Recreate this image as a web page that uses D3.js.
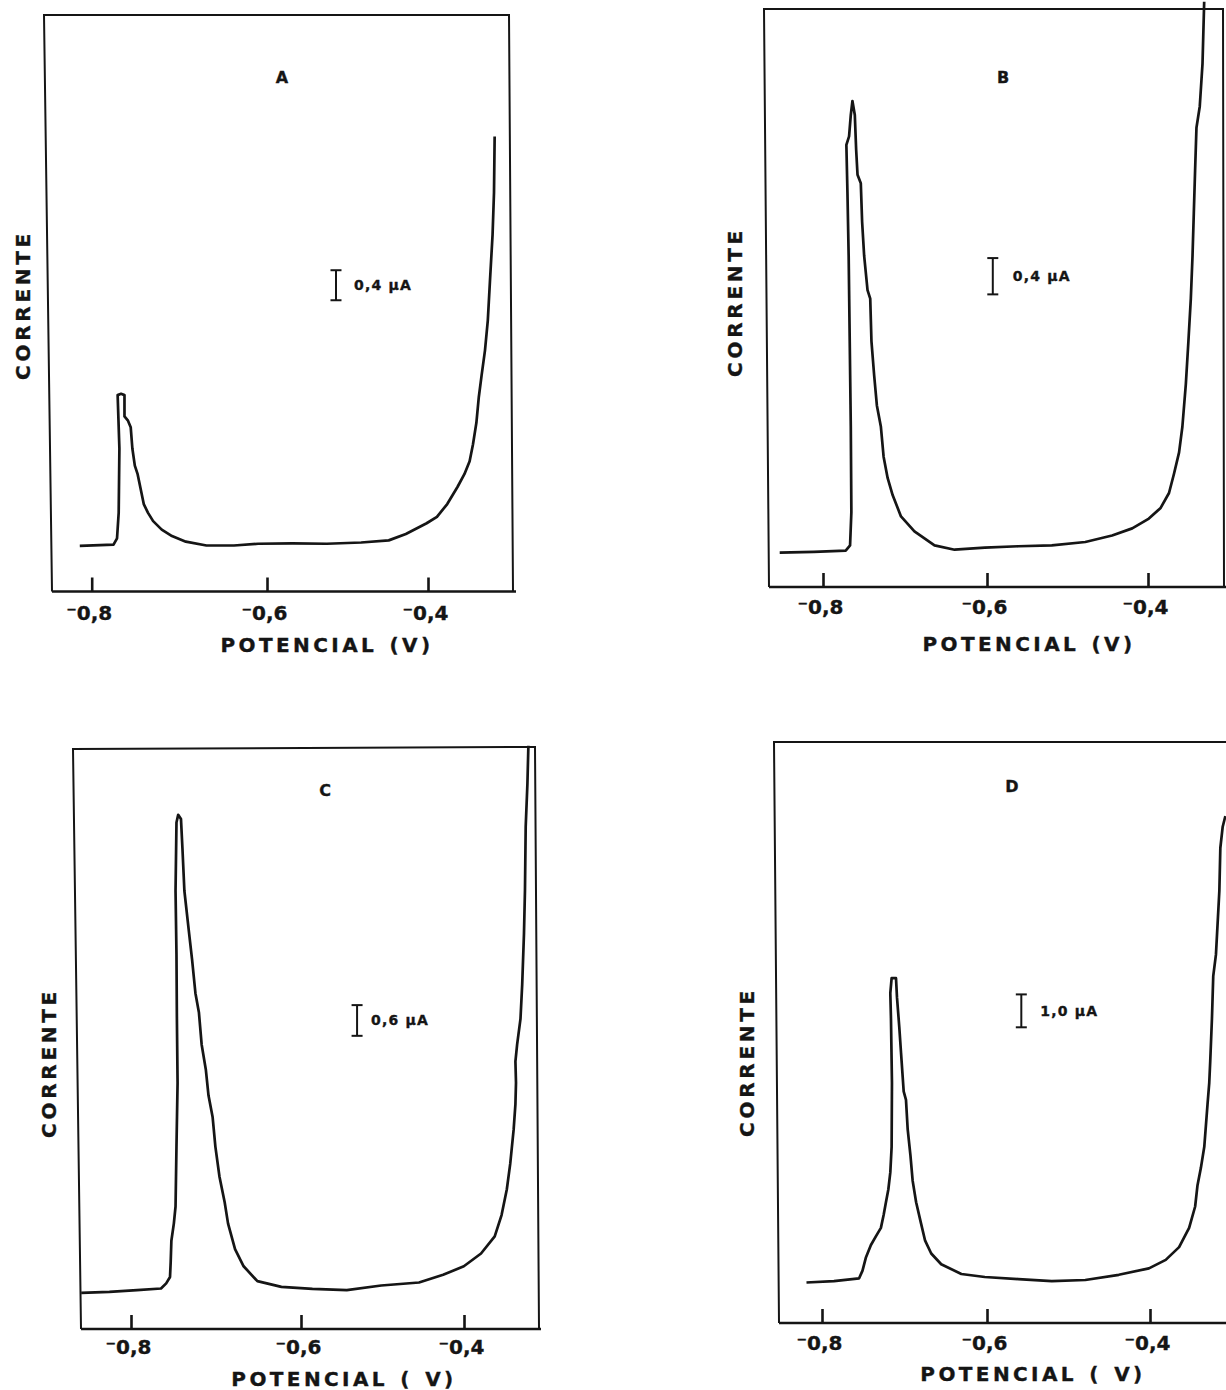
<!DOCTYPE html>
<html lang="pt">
<head>
<meta charset="utf-8">
<title>Corrente x potencial - A, B, C, D</title>
<script src="https://cdn.jsdelivr.net/npm/d3@7/dist/d3.min.js"></script>
<style>
  body { margin: 0; background: #fff; }
  svg text { font-family: "DejaVu Sans", Verdana, sans-serif; font-weight: bold; fill: #151515; stroke: #151515; stroke-width: 0.35; }
</style>
</head>
<body>
<div id="fig"></div>
<script>

// ---- data (potential in V, current in uA) ----
var panelLetters = ["A", "B", "C", "D"];
var tickValues = [-0.8, -0.6, -0.4];
var tickLabels = ["\u207b0,8", "\u207b0,6", "\u207b0,4"];
var yTitle = "CORRENTE";
var xTitles = ["POTENCIAL (V)", "POTENCIAL (V)", "POTENCIAL ( V)", "POTENCIAL ( V)"];

// current at the top of each frame (full scale), uA
var fullScale = [7.68, 6.37, 11.33, 17.66];

// scale bars
var barLabels = ["0,4 \u00b5A", "0,4 \u00b5A", "0,6 \u00b5A", "1,0 \u00b5A"];
var barLength = [0.4, 0.4, 0.6, 1.0];
var barPotential = [-0.5143, -0.5928, -0.5312, -0.5579];
var barCurrent = [3.88, 3.225, 5.727, 8.988];

var potentialA = [-0.8136, -0.7751, -0.7711, -0.7692, -0.7684, -0.7704, -0.7665, -0.7626, -0.7626, -0.7586,
  -0.7555, -0.7536, -0.7508, -0.7476, -0.7446, -0.7406, -0.7359, -0.7299, -0.7201, -0.7084, -0.6926, -0.6691,
  -0.6377, -0.6102, -0.5684, -0.5257, -0.4830, -0.4488, -0.4275, -0.4017, -0.3889, -0.3761, -0.3634, -0.3548,
  -0.3483, -0.3441, -0.3399, -0.3369, -0.3335, -0.3292, -0.3257, -0.3228, -0.3198, -0.3180, -0.3172];
var currentA = [0.608, 0.624, 0.709, 1.051, 1.905, 2.616, 2.633, 2.616, 2.332, 2.275,
  2.189, 1.905, 1.677, 1.563, 1.392, 1.165, 1.051, 0.937, 0.824, 0.739, 0.664, 0.613,
  0.613, 0.636, 0.641, 0.636, 0.653, 0.681, 0.767, 0.909, 0.995, 1.165, 1.392, 1.563,
  1.735, 1.961, 2.247, 2.588, 2.872, 3.213, 3.612, 4.181, 4.751, 5.319, 6.06];

var potentialB = [-0.8528, -0.8111, -0.7723, -0.7670, -0.7654, -0.7661, -0.7674, -0.7687, -0.7702, -0.7715,
  -0.7682, -0.7661, -0.7641, -0.7612, -0.7596, -0.7579, -0.7539, -0.7523, -0.7498, -0.7457, -0.7424, -0.7409,
  -0.7376, -0.7343, -0.7294, -0.7261, -0.7212, -0.7151, -0.7049, -0.6885, -0.6640, -0.6395, -0.6027, -0.5611,
  -0.5195, -0.4779, -0.4446, -0.4196, -0.3989, -0.3843, -0.3739, -0.3677, -0.3614, -0.3573, -0.3530, -0.3498,
  -0.3468, -0.3447, -0.3431, -0.3415, -0.3398, -0.3357, -0.3323, -0.3302];
var currentB = [0.378, 0.387, 0.401, 0.458, 0.825, 1.766, 2.708, 3.648, 4.354, 4.872,
  4.966, 5.202, 5.356, 5.202, 4.825, 4.543, 4.449, 4.025, 3.648, 3.272, 3.178, 2.708,
  2.331, 2.001, 1.766, 1.436, 1.202, 1.013, 0.778, 0.613, 0.458, 0.411, 0.434, 0.449,
  0.458, 0.496, 0.567, 0.646, 0.754, 0.872, 1.036, 1.248, 1.484, 1.766, 2.237, 2.708,
  3.178, 3.648, 4.119, 4.590, 5.061, 5.296, 5.766, 6.45];

var potentialC = [-0.8586, -0.8254, -0.7929, -0.7647, -0.7586, -0.7541, -0.7533, -0.7525, -0.7496, -0.7476,
  -0.7465, -0.7452, -0.7460, -0.7465, -0.7476, -0.7465, -0.7445, -0.7412, -0.7395, -0.7372, -0.7322, -0.7282,
  -0.7242, -0.7201, -0.7169, -0.7119, -0.7088, -0.7040, -0.7007, -0.6959, -0.6898, -0.6858, -0.6776, -0.6675,
  -0.6513, -0.6231, -0.5860, -0.5438, -0.5016, -0.4552, -0.4256, -0.4002, -0.3791, -0.3623, -0.3539, -0.3475,
  -0.3433, -0.3391, -0.3369, -0.3362, -0.3369, -0.3348, -0.3307, -0.3286, -0.3264, -0.3252, -0.3243, -0.3222,
  -0.3210];
var currentC = [0.707, 0.725, 0.758, 0.791, 0.891, 1.016, 1.309, 1.725, 2.059, 2.393,
  3.559, 4.809, 6.059, 7.311, 8.561, 9.895, 10.045, 9.961, 9.395, 8.561, 7.811, 7.227,
  6.559, 6.184, 5.559, 5.059, 4.559, 4.143, 3.559, 2.975, 2.475, 2.059, 1.559, 1.225,
  0.934, 0.824, 0.783, 0.758, 0.850, 0.908, 1.059, 1.225, 1.475, 1.809, 2.225, 2.725,
  3.225, 3.893, 4.393, 4.809, 5.227, 5.559, 6.059, 6.727, 7.727, 8.561, 9.811, 10.645,
  11.395];

var potentialD = [-0.8188, -0.7855, -0.7550, -0.7509, -0.7469, -0.7407, -0.7347, -0.7286, -0.7253, -0.7225,
  -0.7196, -0.7172, -0.7156, -0.7152, -0.7164, -0.7172, -0.7156, -0.7103, -0.7091, -0.7063, -0.7042, -0.7010,
  -0.6982, -0.6961, -0.6928, -0.6901, -0.6859, -0.6799, -0.6750, -0.6676, -0.6555, -0.6311, -0.6027, -0.5616,
  -0.5205, -0.4794, -0.4383, -0.4013, -0.3807, -0.3643, -0.3520, -0.3446, -0.3417, -0.3376, -0.3334, -0.3294,
  -0.3273, -0.3261, -0.3240, -0.3224, -0.3191, -0.3163, -0.3149, -0.3137, -0.3108, -0.3075];
var currentD = [1.231, 1.271, 1.359, 1.593, 1.982, 2.371, 2.632, 2.891, 3.280, 3.669,
  4.058, 4.578, 5.356, 7.301, 9.246, 10.024, 10.480, 10.480, 9.897, 8.988, 8.210, 7.043,
  6.781, 5.875, 5.097, 4.319, 3.669, 3.021, 2.502, 2.112, 1.787, 1.489, 1.398, 1.334,
  1.271, 1.307, 1.465, 1.660, 1.918, 2.307, 2.891, 3.541, 4.188, 4.708, 5.356, 6.653,
  7.301, 7.951, 9.246, 10.544, 11.195, 12.489, 13.140, 14.438, 15.085, 15.410];

var potentials = [potentialA, potentialB, potentialC, potentialD];
var currents = [currentA, currentB, currentC, currentD];

// ---- layout of the four frames (pixels), the scan is a bit skewed ----
var panels = [
  { tl: [44, 15], tr: [509, 15], bl: [52, 591.5], br: [513, 591.5], axisEnd: 516,
    ticksPx: [91.7, 267, 428], labelPad: 14.5, letter: [282, 77], yTitle: [23, 305], xTitle: [327, 652], barGap: 18 },
  { tl: [764, 9], tr: [1223, 9], bl: [769, 587], br: [1224, 587], axisEnd: 1226,
    ticksPx: [823, 987, 1148], labelPad: 12.5, letter: [1003, 77], yTitle: [735, 302], xTitle: [1029, 651], barGap: 20 },
  { tl: [73, 749], tr: [535, 747], bl: [81, 1329], br: [539, 1329], axisEnd: 541,
    ticksPx: [131, 301, 464], labelPad: 10.5, letter: [325, 790], yTitle: [49, 1063], xTitle: [344, 1386], barGap: 14 },
  { tl: [774, 742], tr: [1228, 742], bl: [779, 1323], br: [1228, 1323], axisEnd: 1228,
    ticksPx: [822, 987, 1150], labelPad: 12.5, letter: [1012, 786], yTitle: [747, 1062], xTitle: [1033, 1381], barGap: 19 }
];

var ink = "#151515";

var svg = d3.select("#fig")
  .append("svg")
    .attr("width", 1226)
    .attr("height", 1390);

var edge = d3.line();

panels.forEach(function (p, i) {
  var g = svg.append("g");

  // scales: piecewise x follows the recorder's uneven ticks
  var x = d3.scaleLinear().domain(tickValues).range(p.ticksPx);
  var y = d3.scaleLinear().domain([0, fullScale[i]]).range([p.bl[1], p.tl[1]]);

  // frame + axis line
  g.append("path")
    .attr("d", edge([p.bl, p.tl, p.tr, p.br]))
    .attr("fill", "none").attr("stroke", ink).attr("stroke-width", 2);
  g.append("path")
    .attr("d", edge([p.bl, [p.axisEnd, p.bl[1]]]))
    .attr("fill", "none").attr("stroke", ink).attr("stroke-width", 2.6);

  // ticks pointing inward
  var axis = d3.axisBottom(x)
    .tickValues(tickValues)
    .tickFormat(function (d, k) { return tickLabels[k]; })
    .tickSizeInner(-14)
    .tickSizeOuter(0)
    .tickPadding(p.labelPad);

  g.append("g")
    .attr("transform", "translate(0," + p.bl[1] + ")")
    .attr("color", ink)
    .call(axis)
    .call(function (a) { a.select(".domain").remove(); })
    .attr("font-size", 20);
  g.selectAll(".tick line").attr("stroke-width", 2.6);
  g.selectAll(".tick text").attr("dx", -3);

  // voltammogram
  var pts = d3.zip(potentials[i], currents[i]);
  g.append("path")
    .datum(pts)
    .attr("d", d3.line().x(function (d) { return x(d[0]); }).y(function (d) { return y(d[1]); }))
    .attr("fill", "none")
    .attr("stroke", ink)
    .attr("stroke-width", 2.7)
    .attr("stroke-linejoin", "round");

  // current scale bar
  var bx = x(barPotential[i]);
  var b0 = y(barCurrent[i]), b1 = y(barCurrent[i] + barLength[i]);
  var bar = g.append("g").attr("stroke", ink).attr("stroke-width", 2);
  bar.append("line").attr("x1", bx).attr("x2", bx).attr("y1", b0).attr("y2", b1);
  bar.append("line").attr("x1", bx - 5.5).attr("x2", bx + 5.5).attr("y1", b0).attr("y2", b0);
  bar.append("line").attr("x1", bx - 5.5).attr("x2", bx + 5.5).attr("y1", b1).attr("y2", b1);
  g.append("text")
    .attr("x", bx + p.barGap)
    .attr("y", (b0 + b1) / 2 + 5)
    .attr("font-size", 14)
    .attr("letter-spacing", 1.2)
    .text(barLabels[i]);

  // panel letter
  g.append("text")
    .attr("x", p.letter[0]).attr("y", p.letter[1] + 6)
    .attr("text-anchor", "middle")
    .attr("font-size", 16)
    .text(panelLetters[i]);

  // axis titles
  g.append("text")
    .attr("x", p.xTitle[0]).attr("y", p.xTitle[1])
    .attr("text-anchor", "middle")
    .attr("font-size", 20)
    .attr("letter-spacing", 3.4)
    .attr("word-spacing", 2)
    .text(xTitles[i]);

  g.append("text")
    .attr("transform", "translate(" + (p.yTitle[0] + 7) + "," + p.yTitle[1] + ") rotate(-90)")
    .attr("text-anchor", "middle")
    .attr("font-size", 20)
    .attr("letter-spacing", 3.7)
    .text(yTitle);
});

</script>
</body>
</html>
